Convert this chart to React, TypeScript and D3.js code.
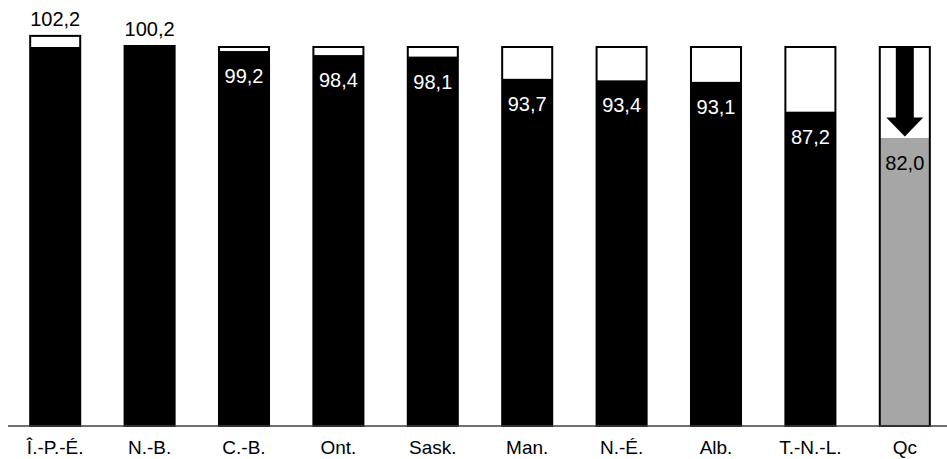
import React from "react";
import * as d3 from "d3";

const categories = ["Î.-P.-É.", "N.-B.", "C.-B.", "Ont.", "Sask.", "Man.", "N.-É.", "Alb.", "T.-N.-L.", "Qc"];
const values = [102.2, 100.2, 99.2, 98.4, 98.1, 93.7, 93.4, 93.1, 87.2, 82.0];
const valueLabels = ["102,2", "100,2", "99,2", "98,4", "98,1", "93,7", "93,4", "93,1", "87,2", "82,0"];
const reference = 100;
const highlight = "Qc";

const W = 947;
const H = 459;

export default function App() {
  const x = d3.scaleBand<string>().domain(categories).range([8, 952]).paddingInner(0.47).paddingOuter(0.235);
  const y = d3.scaleLinear().domain([25, 100]).range([426, 47]);
  const base = y(25);
  const bw = x.bandwidth();
  const font = "'Liberation Sans', Arial, sans-serif";

  return (
    <svg width={W} height={H} style={{ position: "absolute", left: 0, top: 0 }} fontFamily={font}>
      <rect x={0} y={0} width={W} height={H} fill="#fff" />
      {categories.map((c, i) => {
        const v = values[i];
        const x0 = x(c)!;
        const cx = x0 + bw / 2;
        const outerTop = y(Math.max(v, reference));
        const fillTop = y(Math.min(v, reference));
        const isHi = c === highlight;
        const above = v > reference;
        const shaftW = 18;
        const headW = 37;
        const tipY = y(v) - 1.5;
        const headTop = tipY - 19;
        const arrowTop = y(reference);
        return (
          <g key={c}>
            <rect x={x0} y={outerTop} width={bw} height={base - outerTop} fill="#fff" />
            <rect x={x0} y={fillTop} width={bw} height={base - fillTop} fill={isHi ? "#a6a6a6" : "#000"} />
            <rect x={x0} y={outerTop} width={bw} height={base - outerTop} fill="none" stroke="#000" strokeWidth={2} />
            {isHi && (
              <path
                d={`M${cx - shaftW / 2},${arrowTop} L${cx + shaftW / 2},${arrowTop} L${cx + shaftW / 2},${headTop} L${cx + headW / 2},${headTop} L${cx},${tipY} L${cx - headW / 2},${headTop} L${cx - shaftW / 2},${headTop} Z`}
                fill="#000"
              />
            )}
            <text
              x={cx}
              y={above ? y(v) - 10 : y(v) + 32}
              textAnchor="middle"
              fontSize={20}
              fill={above || isHi ? "#000" : "#fff"}
            >
              {valueLabels[i]}
            </text>
            <text x={cx} y={454} textAnchor="middle" fontSize={19} fill="#000">
              {c}
            </text>
          </g>
        );
      })}
      <line x1={8} x2={W} y1={base} y2={base} stroke="#404040" strokeWidth={1.5} />
    </svg>
  );
}
